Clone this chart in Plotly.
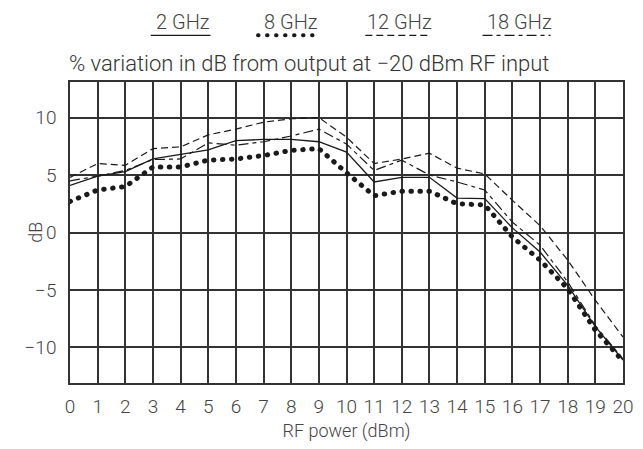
import plotly.graph_objects as go

# RF power (dBm)
power = list(range(21))

# variation in dB
ghz2 = [4.1, 4.9, 5.3, 6.4, 6.8, 7.2, 8.0, 8.1, 8.1, 7.9, 7.0, 4.4, 4.8, 4.8, 3.0, 2.95, 0.4, -1.7, -4.6, -8.2, -11.1]
ghz8 = [2.7, 3.7, 4.0, 5.7, 5.7, 6.3, 6.4, 6.7, 7.15, 7.3, 5.2, 3.2, 3.6, 3.6, 2.5, 2.4, -0.4, -2.4, -4.9, -8.5, -11.2]
ghz12 = [4.8, 6.0, 5.85, 7.3, 7.45, 8.5, 9.0, 9.6, 9.9, 10.0, 8.3, 6.0, 6.4, 6.9, 5.6, 5.1, 2.8, 0.6, -2.4, -5.9, -9.1]
ghz18 = [4.5, 4.9, 5.4, 6.35, 6.4, 7.8, 7.6, 7.9, 8.4, 9.0, 7.7, 5.4, 6.3, 5.0, 4.4, 3.7, 0.9, -1.1, -4.3, -8.1, -11.0]

series_names = ['2 GHz', '8 GHz', '12 GHz', '18 GHz']
y_ticks = [-10, -5, 0, 5, 10]

ink = '#1a1a1a'
grid = '#333333'
text_col = '#444444'
font_family = 'Roboto, Noto Sans, sans-serif'

styles = [
    dict(color=ink, width=1.3, dash='solid'),
    dict(color=ink, width=5, dash='0.5px,8.5px'),
    dict(color=ink, width=1.2, dash='7px,4px'),
    dict(color=ink, width=1.2, dash='10px,4px,4px,4px'),
]

fig = go.Figure()
for name, vals, st in zip(series_names, [ghz2, ghz8, ghz12, ghz18], styles):
    fig.add_trace(go.Scatter(x=power, y=vals, mode='lines', name=name, line=st, showlegend=False))

# legend: text with the line sample underneath
legend_pos = [(0.146, 0.254), (0.340, 0.449), (0.534, 0.648), (0.746, 0.869)]
for name, (x0, x1), st in zip(series_names, legend_pos, styles):
    fig.add_annotation(x=(x0 + x1) / 2 + 0.005, y=1.198, xref='paper', yref='paper', text=name,
                       showarrow=False, xanchor='center', yanchor='middle',
                       font=dict(size=20, color=text_col, family=font_family, weight=300))
    fig.add_shape(type='line', xref='paper', yref='paper', x0=x0, x1=x1, y0=1.155, y1=1.155,
                  line=dict(color=ink, width=4 if st['width'] > 2 else 1.3, dash=st['dash']))

fig.add_annotation(x=-0.005, y=1.063, xref='paper', yref='paper', xanchor='left', yanchor='middle',
                   text='% variation in dB from output at \u221220 dBm RF input', showarrow=False,
                   font=dict(size=22, color='#333333', family=font_family, weight=300))

# y axis title sits close to the tick labels
fig.add_annotation(x=-0.063, y=0.5, xref='paper', yref='paper', xanchor='center', yanchor='middle',
                   text='dB', textangle=-90, showarrow=False,
                   font=dict(size=18, color=text_col, family=font_family, weight=300))

fig.update_layout(
    width=643, height=449,
    margin=dict(l=70, r=20, t=82, b=66),
    paper_bgcolor='white', plot_bgcolor='white',
    font=dict(family=font_family, size=18, color=text_col, weight=300),
)
fig.update_xaxes(range=[0, 20], dtick=1, tick0=0, showgrid=True, gridcolor=grid, gridwidth=1.5,
                 zeroline=False, showline=True, mirror=True, linecolor=grid, linewidth=1.5,
                 ticks='', ticklabelstandoff=5, tickfont=dict(size=19), automargin=False,
                 title=dict(text='RF power (dBm)', standoff=8, font=dict(size=18, color=text_col)))
fig.update_yaxes(range=[-13.1, 13.1], tickvals=y_ticks, showgrid=True, gridcolor=grid, gridwidth=1.5,
                 zeroline=False, showline=True, mirror=True, linecolor=grid, linewidth=1.5,
                 ticks='', ticklabelstandoff=8, tickfont=dict(size=19), automargin=False)

round_dots = """
document.body.style.margin = '0';
var tr = document.querySelectorAll('.scatterlayer .trace');
if (tr.length > 1) { var p = tr[1].querySelector('path.js-line'); if (p) p.style.strokeLinecap = 'round'; }
var sh = document.querySelectorAll('.shapelayer path');
if (sh.length > 1) { sh[1].style.strokeLinecap = 'round'; }
"""
fig.write_html("out.html", post_script=round_dots, config={'displayModeBar': False})
